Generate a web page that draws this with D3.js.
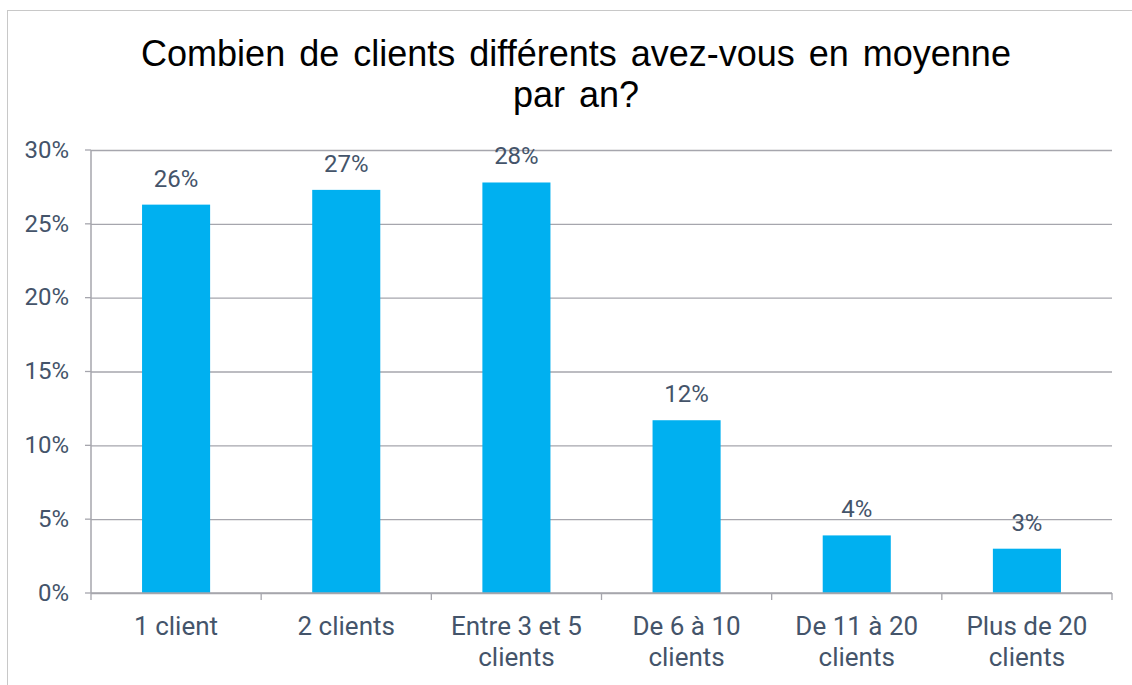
<!DOCTYPE html>
<html>
<head>
<meta charset="utf-8">
<script src="https://cdn.jsdelivr.net/npm/d3@7"></script>
<style>
  body { margin: 0; background: #fff; }
  svg { display: block; }
  .tick text { font-family: Roboto, sans-serif; font-size: 24px; fill: #44546a; }
</style>
</head>
<body>
<script>
const WIDTH = 1132
const HEIGHT = 685

const categories = ["1 client", "2 clients", "Entre 3 et 5 clients", "De 6 à 10 clients", "De 11 à 20 clients", "Plus de 20 clients"]
const labelLines = [["1 client"], ["2 clients"], ["Entre 3 et 5", "clients"], ["De 6 à 10", "clients"], ["De 11 à 20", "clients"], ["Plus de 20", "clients"]]
const values = [26.3, 27.3, 27.8, 11.7, 3.9, 3.0]
const yTicks = [0, 5, 10, 15, 20, 25, 30]
const titleLines = ["Combien de clients différents avez-vous en moyenne", "par an?"]

var svg = d3.select("body").append("svg")
    .attr("width", WIDTH)
    .attr("height", HEIGHT);

// chart area border (runs off the right / bottom edges)
svg.append("rect")
    .attr("x", 7.5).attr("y", 10.5)
    .attr("width", WIDTH + 20).attr("height", HEIGHT + 20)
    .attr("fill", "none")
    .attr("stroke", "#c8c8c8");

var margin = {left: 91, right: 1112, top: 150, bottom: 593};

var x = d3.scaleBand()
    .domain(categories)
    .range([margin.left, margin.right])
    .paddingInner(0.6)
    .paddingOuter(0.3);

var y = d3.scaleLinear()
    .domain([0, 30])
    .range([margin.bottom, margin.top]);

// gridlines + y labels
var yAxis = svg.append("g")
    .attr("transform", "translate(" + margin.left + ",0)")
    .call(d3.axisLeft(y).tickValues(yTicks).tickFormat(d => d + "%").tickSize(-(margin.right - margin.left)).tickPadding(22));
yAxis.select(".domain").remove();
yAxis.selectAll(".tick line").attr("stroke", "#a6a6ad").attr("stroke-width", 1.3);
yAxis.selectAll(".tick text").attr("dy", "0.3em");

// small tick stubs left of the axis
svg.append("g").selectAll("line").data(yTicks).join("line")
    .attr("x1", margin.left - 6).attr("x2", margin.left)
    .attr("y1", d => y(d)).attr("y2", d => y(d))
    .attr("stroke", "#a6a6ad").attr("stroke-width", 1.3);

// bars
svg.append("g").selectAll("rect").data(values).join("rect")
    .attr("x", (d, i) => x(categories[i]))
    .attr("y", d => y(d))
    .attr("width", x.bandwidth())
    .attr("height", d => y(0) - y(d))
    .attr("fill", "#00b0f0");

// value labels
svg.append("g").selectAll("text").data(values).join("text")
    .attr("x", (d, i) => x(categories[i]) + x.bandwidth() / 2)
    .attr("y", d => y(d) - 18)
    .attr("text-anchor", "middle")
    .style("font-family", "Roboto, sans-serif")
    .style("font-size", "24px")
    .style("fill", "#44546a")
    .text(d => Math.round(d) + "%");

// vertical axis line
svg.append("line")
    .attr("x1", margin.left).attr("x2", margin.left)
    .attr("y1", margin.top).attr("y2", margin.bottom)
    .attr("stroke", "#a6a6ad").attr("stroke-width", 1.5);

// x axis with category dividers
var xAxisG = svg.append("g");
xAxisG.append("line")
    .attr("x1", margin.left).attr("x2", margin.right)
    .attr("y1", margin.bottom).attr("y2", margin.bottom)
    .attr("stroke", "#a6a6ad").attr("stroke-width", 1.5);
xAxisG.selectAll("line.div").data(d3.range(categories.length + 1)).join("line")
    .classed("div", true)
    .attr("x1", i => margin.left + i * (margin.right - margin.left) / categories.length)
    .attr("x2", i => margin.left + i * (margin.right - margin.left) / categories.length)
    .attr("y1", margin.bottom).attr("y2", margin.bottom + 7)
    .attr("stroke", "#a6a6ad").attr("stroke-width", 1.3);

xAxisG.selectAll("text").data(labelLines).join("text")
    .attr("x", (d, i) => x(categories[i]) + x.bandwidth() / 2)
    .attr("y", 635)
    .attr("text-anchor", "middle")
    .style("font-family", "Roboto, sans-serif")
    .style("font-size", "26px")
    .style("fill", "#44546a")
    .selectAll("tspan").data(d => d).join("tspan")
        .attr("x", function(){ return this.parentNode.getAttribute("x"); })
        .attr("dy", (d, i) => i == 0 ? 0 : 31)
        .text(d => d);

// title
svg.append("g").selectAll("text").data(titleLines).join("text")
    .attr("x", 576)
    .attr("y", (d, i) => 66 + i * 41)
    .attr("text-anchor", "middle")
    .style("font-family", "'Liberation Sans', Arial, sans-serif")
    .style("font-size", "36px")
    .style("word-spacing", "4px")
    .style("fill", "#000")
    .text(d => d);
</script>
</body>
</html>
